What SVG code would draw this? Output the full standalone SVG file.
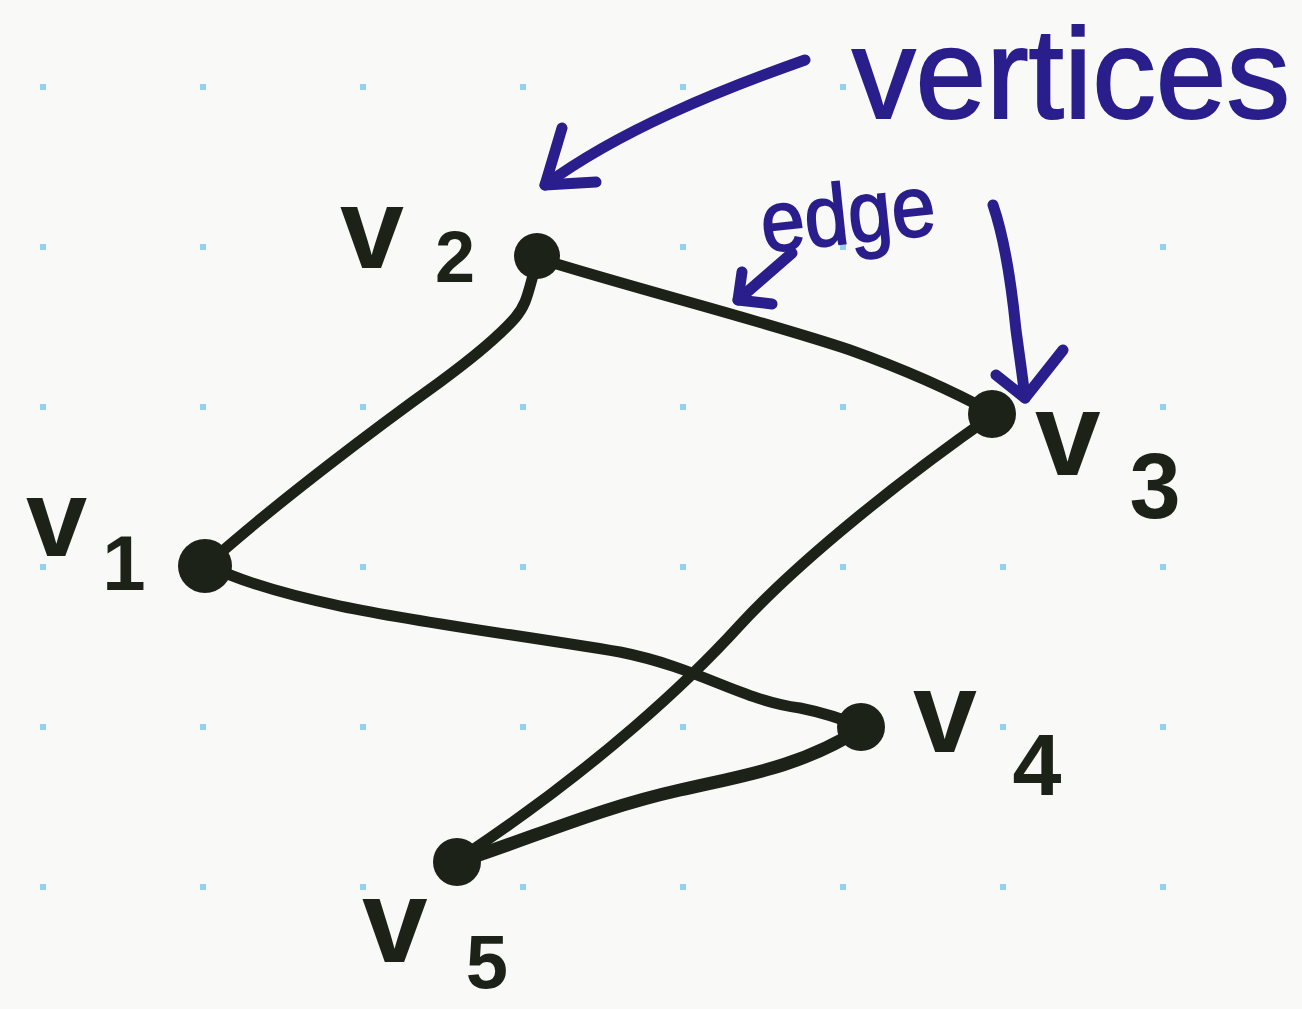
<svg xmlns="http://www.w3.org/2000/svg" width="1302" height="1009" viewBox="0 0 1302 1009">
<defs>
<style>
.bg{fill:#f9f9f7}
.dot{fill:#93d2ee}
.edge{fill:none;stroke:#1d2219;stroke-width:11;stroke-linecap:round;stroke-linejoin:round}
.thick{stroke-width:13}
.node{fill:#1d2219}
.lbl{font-family:"Liberation Sans",Arial,sans-serif;font-weight:bold;fill:#1d2219}
.sub{text-anchor:middle}
.ann{fill:none;stroke:#2a1d8c;stroke-width:11;stroke-linecap:round;stroke-linejoin:round}
.annt{font-family:"Liberation Sans",Arial,sans-serif;fill:#2a1d8c}
</style>
<pattern id="grid" x="40" y="84" width="160" height="160" patternUnits="userSpaceOnUse">
<rect class="dot" x="0" y="0" width="6" height="6"/>
</pattern>
</defs>
<rect class="bg" width="1302" height="1009"/>
<rect fill="url(#grid)" width="1302" height="1009"/>

<g id="connectors">
<path class="edge" d="M210,562 C280,500 380,425 440,382 C470,360 500,335 515,318 C528,303 528,290 537,262"/>
<path class="edge" d="M537,258 C640,290 760,320 850,350 C920,375 960,395 993,413"/>
<path class="edge" d="M207,565 C300,610 460,625 620,652 C700,668 740,700 800,708 C830,714 850,722 862,727"/>
<path class="edge" d="M993,415 C900,480 800,560 740,625 C690,680 600,765 465,855"/>
<path class="edge thick" d="M458,862 C540,835 600,808 680,790 C740,776 800,768 862,728"/>
</g>

<g id="v1"><circle class="node" cx="205" cy="566" r="27"/><text class="lbl" x="26" y="556" font-size="110">v</text><text class="lbl sub" x="124" y="590" font-size="78">1</text></g>
<g id="v2"><circle class="node" cx="537" cy="256" r="23"/><text class="lbl" x="340" y="268" font-size="115">v</text><text class="lbl sub" x="455" y="282" font-size="72">2</text></g>
<g id="v3"><circle class="node" cx="992" cy="414" r="24"/><text class="lbl" x="1035" y="475" font-size="118">v</text><text class="lbl sub" x="1155" y="518" font-size="92">3</text></g>
<g id="v4"><circle class="node" cx="861" cy="727" r="24"/><text class="lbl" x="913" y="752" font-size="115">v</text><text class="lbl sub" x="1037" y="795" font-size="88">4</text></g>
<g id="v5"><circle class="node" cx="457" cy="862" r="24"/><text class="lbl" x="362" y="962" font-size="118">v</text><text class="lbl sub" x="487" y="988" font-size="76">5</text></g>

<g id="annotations">
<text class="annt" x="852" y="118" font-size="128" textLength="438" lengthAdjust="spacingAndGlyphs" stroke="#2a1d8c" stroke-width="2">vertices</text>
<text class="annt" x="762" y="243" font-size="86" textLength="175" lengthAdjust="spacingAndGlyphs" stroke="#2a1d8c" stroke-width="2" transform="rotate(-6 850 230)">edge</text>
<path class="ann" d="M805,60 C720,90 620,130 545,185"/>
<path class="ann" d="M562,128 L545,185 L596,182"/>
<path class="ann" d="M792,253 L738,300"/>
<path class="ann" d="M742,272 L738,300 L772,304"/>
<path class="ann" d="M993,205 C1005,240 1012,290 1016,330 C1020,360 1023,380 1025,398"/>
<path class="ann" d="M996,375 L1025,398 L1063,350"/>
</g>
</svg>
